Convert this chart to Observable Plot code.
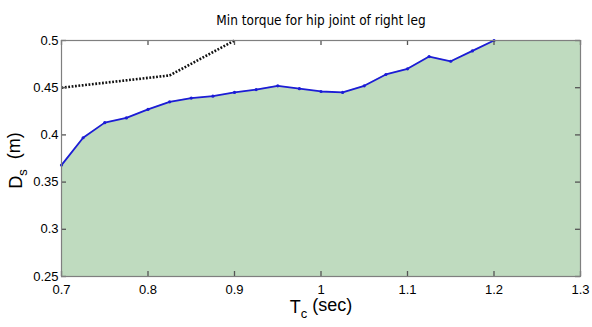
<!DOCTYPE html>
<html>
<head>
<meta charset="utf-8">
<script src="https://cdn.jsdelivr.net/npm/d3@7"></script>
<script src="https://cdn.jsdelivr.net/npm/@observablehq/plot@0.6"></script>
<style>
  html, body { margin: 0; padding: 0; background: #fff; }
</style>
</head>
<body>
<div id="chart"></div>
<script>
// Data
const tc = [0.7, 0.725, 0.75, 0.775, 0.8, 0.825, 0.85, 0.875, 0.9, 0.925, 0.95, 0.975, 1.0, 1.025, 1.05, 1.075, 1.1, 1.125, 1.15, 1.175, 1.2];
const ds = [0.368, 0.397, 0.413, 0.418, 0.427, 0.435, 0.439, 0.441, 0.445, 0.448, 0.452, 0.449, 0.446, 0.445, 0.452, 0.464, 0.470, 0.483, 0.478, 0.489, 0.500];
const boundT = [0.7, 0.825, 0.9];
const boundD = [0.45, 0.463, 0.5];
const fillT = [...tc, 1.3];
const fillD = [...ds, 0.5];
const xTicks = [0.7, 0.8, 0.9, 1.0, 1.1, 1.2, 1.3];
const xLabels = ["0.7", "0.8", "0.9", "1", "1.1", "1.2", "1.3"];
const yTicks = [0.25, 0.3, 0.35, 0.4, 0.45, 0.5];
const yLabels = ["0.25", "0.3", "0.35", "0.4", "0.45", "0.5"];
const title = "Min torque for hip joint of right leg";
const xTitle = "T_c (sec)";
const yTitle = "D_s  (m)";

const font = "'Liberation Sans', Arial, sans-serif";
const axisColor = "#7f7f7f";

const curve = tc.map((t, i) => ({t, d: ds[i]}));
const bound = boundT.map((t, i) => ({t, d: boundD[i]}));
const fill = fillT.map((t, i) => ({t, d: fillD[i]}));

const W = 592, H = 327, ML = 61, MR = 12, MT = 40, MB = 51, TICK = 5;
const frameW = W - ML - MR, frameH = H - MT - MB;

const plot = Plot.plot({
  width: W,
  height: H,
  marginLeft: ML,
  marginRight: MR,
  marginTop: MT,
  marginBottom: MB,
  style: {fontFamily: font, fontSize: "13px", background: "#fff", color: "#000"},
  x: {domain: [0.7, 1.3]},
  y: {domain: [0.25, 0.5]},
  marks: [
    Plot.areaY(fill, {x: "t", y1: 0.25, y2: "d", fill: "#bfdbbf"}),
    Plot.line(bound, {x: "t", y: "d", stroke: "#111", strokeWidth: 2.6, strokeDasharray: "1.8 1.6", strokeLinecap: "butt"}),
    Plot.line(curve, {x: "t", y: "d", stroke: "#1c1cd6", strokeWidth: 1.8}),
    Plot.dot(curve, {x: "t", y: "d", r: 1.6, fill: "#1c1cd6"}),
    // inward ticks on all four sides
    Plot.ruleX(xTicks, {x: d => d, insetTop: frameH - TICK, stroke: "#555", strokeWidth: 1.3}),
    Plot.ruleX(xTicks, {x: d => d, insetBottom: frameH - TICK, stroke: "#555", strokeWidth: 1.3}),
    Plot.ruleY(yTicks, {y: d => d, insetRight: frameW - TICK, stroke: "#555", strokeWidth: 1.3}),
    Plot.ruleY(yTicks, {y: d => d, insetLeft: frameW - TICK, stroke: "#555", strokeWidth: 1.3}),
    Plot.frame({stroke: axisColor, strokeWidth: 1.2}),
    Plot.axisX(xTicks, {anchor: "bottom", tickSize: 0, tickPadding: 8, label: null,
      tickFormat: d => xLabels[xTicks.indexOf(d)], fontSize: 13}),
    Plot.axisY(yTicks, {anchor: "left", tickSize: 0, tickPadding: 3, label: null,
      tickFormat: d => yLabels[yTicks.indexOf(d)], fontSize: 13}),
    Plot.text([title], {frameAnchor: "top", lineAnchor: "middle", textAnchor: "middle", dy: -20, fontSize: 13.5, text: d => d,
      fontFamily: "'Liberation Sans Narrow', 'DejaVu Sans Condensed', sans-serif"}),
    Plot.text([xTitle], {frameAnchor: "bottom", lineAnchor: "middle", textAnchor: "middle", dy: 31, fontSize: 18, text: d => d}),
    Plot.text([yTitle], {frameAnchor: "left", lineAnchor: "middle", textAnchor: "middle", dx: -45, dy: 2, rotate: -90, fontSize: 18, text: d => d})
  ]
});

// turn "X_y rest" into X with subscript y
d3.select(plot).selectAll("text").each(function() {
  const s = this.textContent;
  const m = s.match(/^(\S+)_(\S)(.*)$/);
  if (!m || this.querySelector("tspan")) return;
  const el = d3.select(this);
  el.text(null);
  el.append("tspan").text(m[1]);
  el.append("tspan").attr("dy", "0.4em").attr("font-size", "0.72em").text(m[2]);
  el.append("tspan").attr("dy", "-0.4em").text(m[3]);
});

document.getElementById("chart").appendChild(plot);
</script>
</body>
</html>
